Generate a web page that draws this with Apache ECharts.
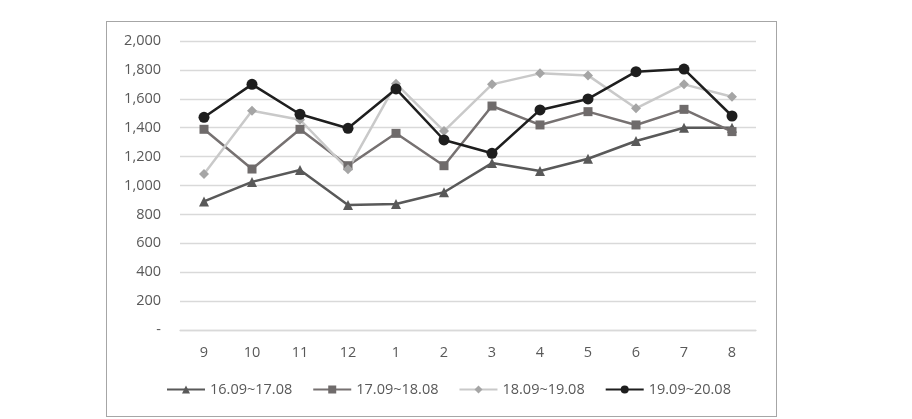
<!doctype html>
<html lang="ko">

<head>
  <meta charset="utf-8">
  <title>월별 추이</title>
  <style>
    html, body {
      margin: 0;
      padding: 0;
      background: #fff;
    }
    .frame {
      position: absolute;
      left: 106px;
      top: 21px;
      width: 669px;
      height: 394px;
      border: 1px solid #a6a6a6;
    }
    #chart {
      position: absolute;
      left: 0;
      top: 0;
      width: 912px;
      height: 419px;
    }
  </style>
</head>

<body>
  <div class="frame"></div>
  <div id="chart"></div>
  <script src="https://cdn.jsdelivr.net/npm/echarts@6/dist/echarts.min.js"></script>
  <script>
    const months = ["9", "10", "11", "12", "1", "2", "3", "4", "5", "6", "7", "8"];
    const y1617 = [890, 1025, 1107, 865, 872, 953, 1155, 1100, 1185, 1308, 1400, 1400];
    const y1718 = [1389, 1114, 1389, 1137, 1361, 1137, 1550, 1419, 1511, 1419, 1527, 1373];
    const y1819 = [1080, 1518, 1455, 1112, 1705, 1377, 1700, 1776, 1762, 1534, 1700, 1614];
    const y1920 = [1472, 1700, 1493, 1396, 1668, 1315, 1223, 1523, 1599, 1788, 1806, 1481];

    const font = "'Open Sans', 'Noto Sans', sans-serif";
    const txt = "#595959";

    // 시리즈 공통 설정
    function mkSeries(name, data, symbol, size, lineColor, markColor) {
      return {
        name: name,
        type: "line",
        data: data,
        symbol: symbol,
        symbolSize: size,
        showAllSymbol: true,
        lineStyle: { color: lineColor, width: 2.5 },
        itemStyle: { color: markColor, borderWidth: 0 },
        emphasis: { disabled: true },
        animation: false
      };
    }

    const chart = echarts.init(document.getElementById("chart"), null, { renderer: "canvas" });
    chart.setOption({
      animation: false,
      grid: {
        left: 180,
        right: 156,
        top: 41,
        bottom: 89
      },
      legend: {
        bottom: 17,
        left: 161,
        itemWidth: 38,
        itemHeight: 10,
        itemGap: 20,
        textStyle: { color: txt, fontSize: 14.5, fontFamily: font },
        data: ["16.09~17.08", "17.09~18.08", "18.09~19.08", "19.09~20.08"]
      },
      xAxis: {
        type: "category",
        data: months,
        boundaryGap: true,
        axisLine: { lineStyle: { color: "#d9d9d9", width: 1.3 } },
        axisTick: { show: false },
        axisLabel: { color: txt, fontSize: 14.5, fontFamily: font, margin: 15 }
      },
      yAxis: {
        type: "value",
        min: 0,
        max: 2000,
        interval: 200,
        axisLine: { show: false },
        axisTick: { show: false },
        splitLine: { lineStyle: { color: "#d9d9d9", width: 1.3 } },
        axisLabel: {
          color: txt,
          fontSize: 14.5,
          fontFamily: font,
          margin: 19,
          formatter: v => v === 0 ? "-" : v.toLocaleString("en-US")
        }
      },
      series: [
        mkSeries("16.09~17.08", y1617, "triangle", 10, "#595959", "#595959"),
        mkSeries("17.09~18.08", y1718, "rect", 9, "#767171", "#6f6b6b"),
        mkSeries("18.09~19.08", y1819, "diamond", 10, "#c9c9c9", "#a5a5a5"),
        mkSeries("19.09~20.08", y1920, "circle", 11, "#1e1e1e", "#1e1e1e")
      ]
    });
  </script>
</body>

</html>
